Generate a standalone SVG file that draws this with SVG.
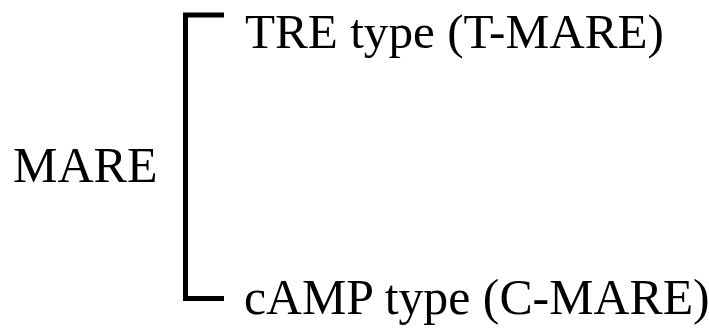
<svg xmlns="http://www.w3.org/2000/svg" width="709" height="334" viewBox="0 0 709 334">
<style>
.t{font-family:"Liberation Serif","Times New Roman","DejaVu Serif",serif;fill:#000}
.br{fill:none;stroke:#000;stroke-width:5;stroke-linejoin:miter;stroke-linecap:butt}
</style>
<rect width="709" height="334" fill="#fff"/>
<g id="mare"><text class="t" font-family="Liberation Serif, Times New Roman, serif" x="13" y="182" font-size="50">MARE</text></g>
<g id="connectors"><path class="br" d="M224,15 H185.5 V298.5 H224"/></g>
<g id="tmare"><text class="t" font-family="Liberation Serif, Times New Roman, serif" x="245" y="48" font-size="49.2">TRE type (T-MARE)</text></g>
<g id="cmare"><text class="t" font-family="Liberation Serif, Times New Roman, serif" x="244" y="314" font-size="49.8">cAMP type (C-MARE)</text></g>
</svg>
